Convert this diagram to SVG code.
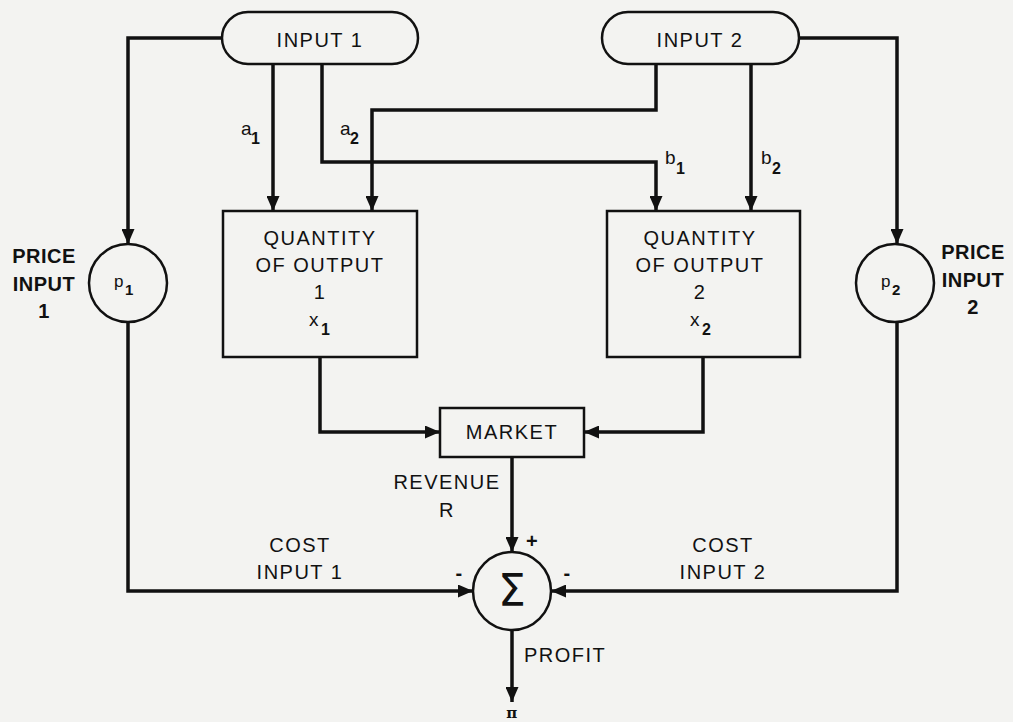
<svg xmlns="http://www.w3.org/2000/svg" width="1013" height="722" viewBox="0 0 1013 722">
<style>
.bg{fill:#f3f3f1}
.ln{fill:none;stroke:#111;stroke-width:3.5;stroke-linejoin:miter}
.nd{fill:none;stroke:#111;stroke-width:2.5}
.t{font-family:"Liberation Sans",Arial,sans-serif;font-size:20px;fill:#111;text-anchor:middle;letter-spacing:1.5px}
.b{font-weight:bold;letter-spacing:0.5px}
.s{font-family:"Liberation Sans",Arial,sans-serif;font-size:19px;fill:#111}
.sub{font-family:"Liberation Sans",Arial,sans-serif;font-size:16px;fill:#111;font-weight:bold}
</style>
<defs>
<marker id="ah" markerUnits="userSpaceOnUse" markerWidth="15" markerHeight="13" refX="15" refY="6.5" orient="auto">
<path d="M0,0 L15,6.5 L0,13 z" fill="#111"/>
</marker>
</defs>
<rect class="bg" x="0" y="0" width="1013" height="722"/>

<g id="connectors">
<path class="ln" d="M222,38 H128 V244" marker-end="url(#ah)"/>
<path class="ln" d="M273,64 V211" marker-end="url(#ah)"/>
<path class="ln" d="M322,64 V162 H656 V211" marker-end="url(#ah)"/>
<path class="ln" d="M656,64 V110 H372 V211" marker-end="url(#ah)"/>
<path class="ln" d="M751,64 V211" marker-end="url(#ah)"/>
<path class="ln" d="M799,38 H897 V244" marker-end="url(#ah)"/>
<path class="ln" d="M320,357 V432 H440" marker-end="url(#ah)"/>
<path class="ln" d="M703,357 V432 H584" marker-end="url(#ah)"/>
<path class="ln" d="M512,457 V552" marker-end="url(#ah)"/>
<path class="ln" d="M128,322 V591 H473" marker-end="url(#ah)"/>
<path class="ln" d="M897,322 V591 H551" marker-end="url(#ah)"/>
<path class="ln" d="M512,630 V702" marker-end="url(#ah)"/>
<text class="s" x="241" y="135">a</text><text class="sub" x="251" y="144">1</text>
<text class="s" x="340" y="135">a</text><text class="sub" x="350" y="144">2</text>
<text class="s" x="665" y="164">b</text><text class="sub" x="676" y="174">1</text>
<text class="s" x="761" y="164">b</text><text class="sub" x="772" y="174">2</text>
<text class="t b" x="44" y="263">PRICE</text>
<text class="t b" x="44" y="291">INPUT</text>
<text class="t b" x="44" y="318">1</text>
<text class="t b" x="973" y="259">PRICE</text>
<text class="t b" x="973" y="287">INPUT</text>
<text class="t b" x="973" y="314">2</text>
<text class="t" x="447" y="489">REVENUE</text>
<text class="t" x="447" y="517">R</text>
<text class="t" x="300" y="552">COST</text>
<text class="t" x="300" y="579">INPUT 1</text>
<text class="t" x="723" y="552">COST</text>
<text class="t" x="723" y="579">INPUT 2</text>
<text class="t b" x="532" y="548">+</text>
<text class="t b" x="459" y="580">-</text>
<text class="t b" x="567" y="580">-</text>
<text class="t" x="524" y="662" style="text-anchor:start">PROFIT</text>
<text class="t b" x="512" y="718" style="font-family:'DejaVu Serif',serif;font-size:15px">π</text>
</g>

<g id="input1">
<rect class="nd" x="222" y="12" width="196" height="52" rx="26" ry="26"/>
<text class="t" x="320" y="47">INPUT 1</text>
</g>
<g id="input2">
<rect class="nd" x="602" y="12" width="197" height="52" rx="26" ry="26"/>
<text class="t" x="700" y="47">INPUT 2</text>
</g>
<g id="price1">
<circle class="nd" cx="128" cy="283" r="39"/>
<text class="s" x="114" y="287" style="font-size:17px">p</text><text class="sub" x="125" y="295" style="font-size:15px">1</text>
</g>
<g id="price2">
<circle class="nd" cx="895" cy="283" r="39"/>
<text class="s" x="881" y="287" style="font-size:17px">p</text><text class="sub" x="892" y="295" style="font-size:15px">2</text>
</g>
<g id="output1">
<rect class="nd" x="223" y="211" width="194" height="146"/>
<text class="t" x="320" y="245">QUANTITY</text>
<text class="t" x="320" y="272">OF OUTPUT</text>
<text class="t" x="320" y="299">1</text>
<text class="s" x="309" y="326">x</text><text class="sub" x="321" y="335">1</text>
</g>
<g id="output2">
<rect class="nd" x="607" y="211" width="193" height="146"/>
<text class="t" x="700" y="245">QUANTITY</text>
<text class="t" x="700" y="272">OF OUTPUT</text>
<text class="t" x="700" y="299">2</text>
<text class="s" x="690" y="326">x</text><text class="sub" x="702" y="335">2</text>
</g>
<g id="market">
<rect class="nd" x="440" y="408" width="144" height="49"/>
<text class="t" x="512" y="439">MARKET</text>
</g>
<g id="sum">
<circle class="nd" cx="512" cy="591" r="39"/>
<text x="512" y="606" style="font-family:'DejaVu Sans',sans-serif;font-size:44px;fill:#111;text-anchor:middle">Σ</text>
</g>
</svg>
